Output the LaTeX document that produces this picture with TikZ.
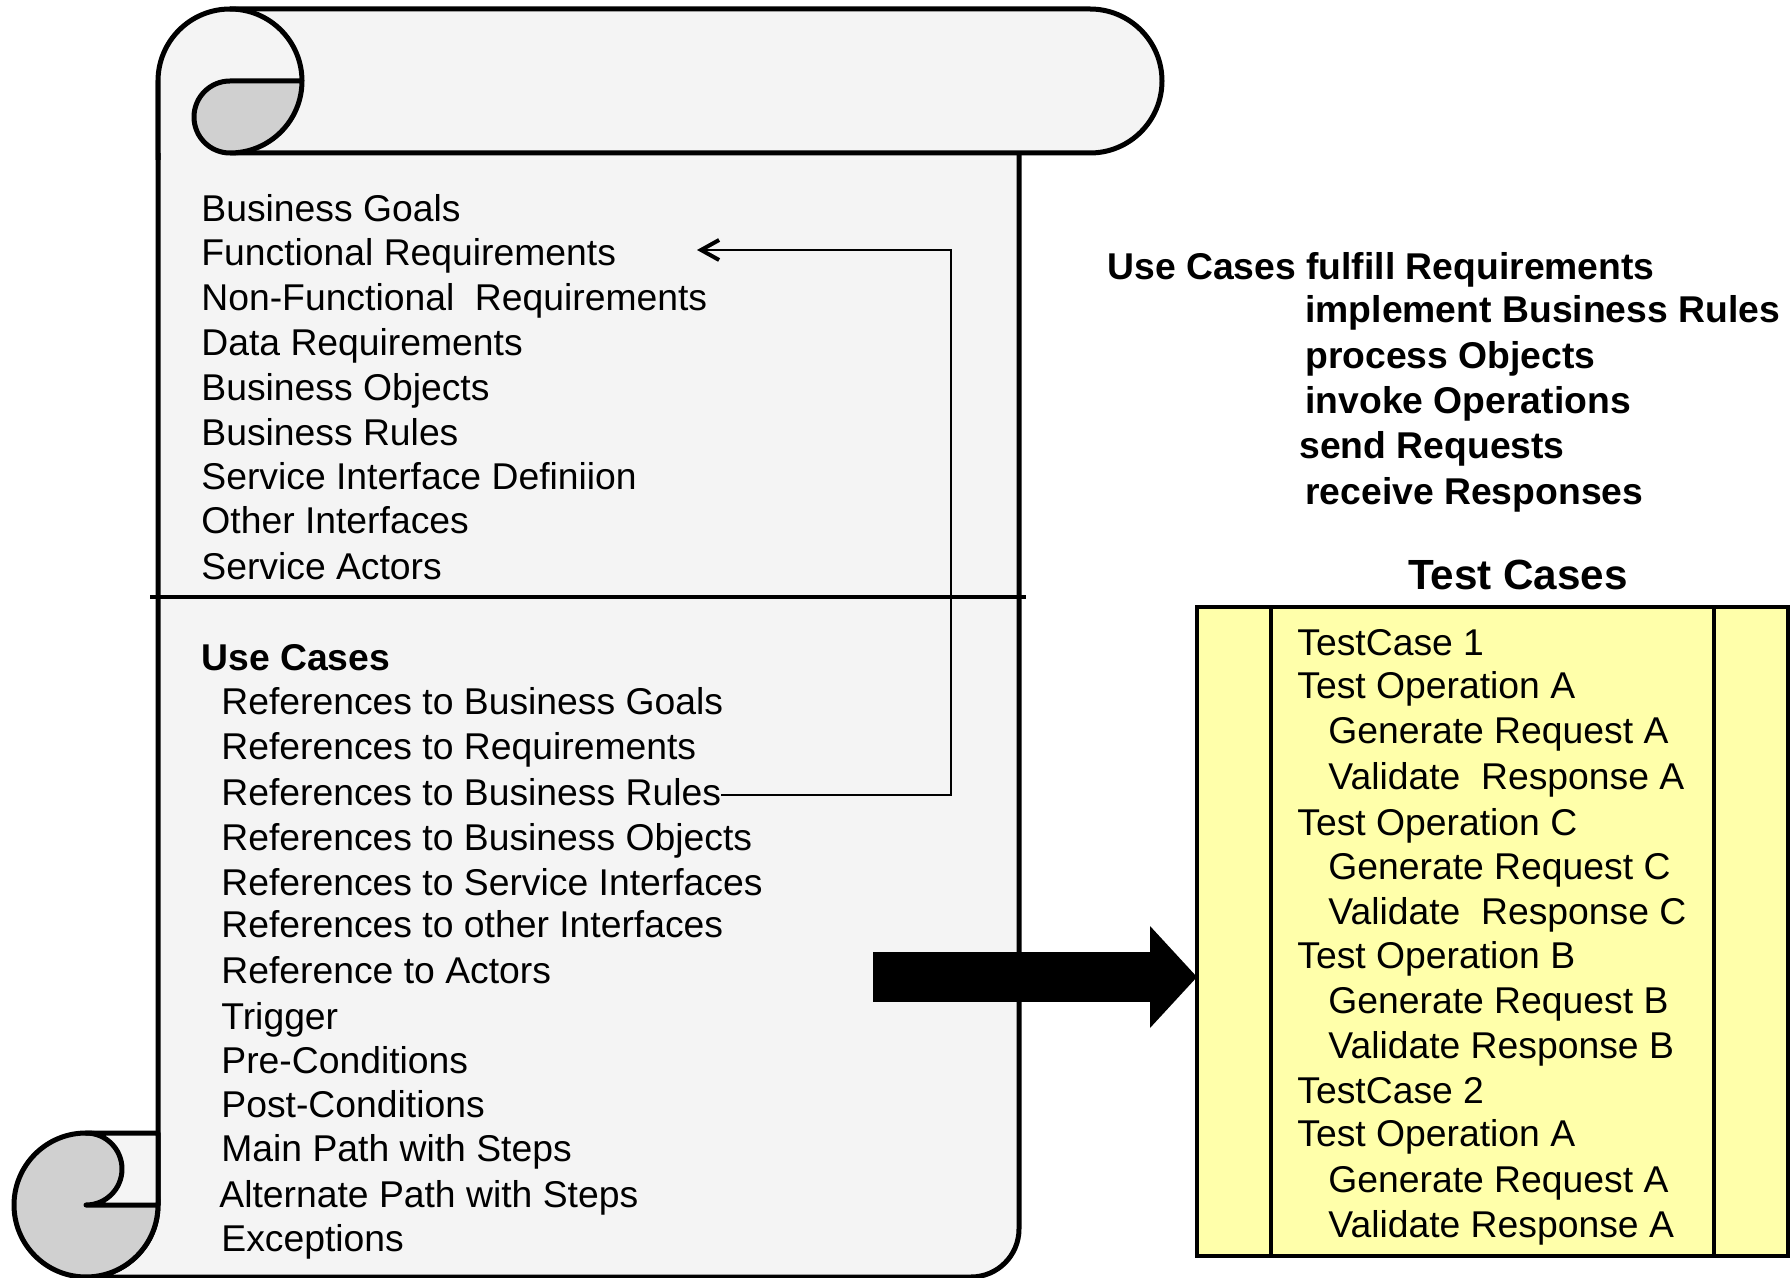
\documentclass[tikz,border=0pt]{standalone}
\usepackage{fontspec}
\setmainfont{Liberation Sans}
\usepackage{xcolor}
\usepackage{tikz}
\usetikzlibrary{arrows.meta}

\definecolor{scrollgray}{HTML}{F4F4F4}
\definecolor{curlgray}{HTML}{D0D0D0}
\definecolor{testyellow}{HTML}{FFFFAA}

\begin{document}
\begin{tikzpicture}[x=0.5pt, y=-0.5pt,
		scroll/.style={fill=scrollgray, draw=black, line width=2.5pt, line join=round},
		curl/.style={fill=curlgray, draw=black, line width=2.5pt, line join=round},
		item/.style={anchor=base west, inner sep=0pt, font=\fontsize{18.65pt}{22pt}\selectfont},
		bolditem/.style={item, font=\fontsize{18.65pt}{22pt}\selectfont\bfseries},
		link/.style={line width=0.85pt, -{Straight Barb[length=9pt, width=10pt, line width=2pt]}},
		bigarrow/.style={line width=25pt, -{Triangle[length=23.5pt, width=51pt, line width=0pt]}}]
				\useasboundingbox (0,0) rectangle (1790,1278);
				
				%Scroll body
				\filldraw[scroll] (158,81) -- (158,1205) arc[start angle=0, end angle=90, radius=72] -- (971,1277) arc[start angle=90, end angle=0, radius=48] -- (1019,81) -- cycle;
				
				%Bottom curl
				\filldraw[curl] (86,1205) circle[radius=72];
				\filldraw[scroll] (86,1133) -- (158,1133) -- (158,1205) -- (86,1205) arc[start angle=90, end angle=-90, radius=36] -- cycle;
				
				%Top roll
				\fill[scrollgray] (158,81) arc[start angle=180, end angle=270, radius=72] -- (1090,9) arc[start angle=270, end angle=450, radius=72] -- (158,153) -- cycle;
				\draw[scroll, fill=none] (158,160) -- (158,81) arc[start angle=180, end angle=270, radius=72] -- (1090,9) arc[start angle=270, end angle=450, radius=72] -- (230,153);
				\draw[scroll, fill=none] (230,9) arc[start angle=270, end angle=360, radius=72];
				\filldraw[curl] (302,81) -- (230,81) arc[start angle=270, end angle=90, radius=36] arc[start angle=90, end angle=0, radius=72] -- cycle;
				
				%Divider
				\draw[line width=2.3pt] (150,597) -- (1026,597);
				
				%Requirements
				\node[item] (goals) at (201,222) {Business Goals};
				\node[item] (funcreq) at (201,266) {Functional Requirements};
				\node[item] (nonfunc) at (201,311) {Non-Functional\ \ Requirements};
				\node[item] (datareq) at (201,356) {Data Requirements};
				\node[item] (objects) at (201,401) {Business Objects};
				\node[item] (busrules) at (201,446) {Business Rules};
				\node[item] (service) at (201,490) {Service Interface Definiion};
				\node[item] (other) at (201,534) {Other Interfaces};
				\node[item] (actors) at (201,580) {Service Actors};
				
				%Use Cases
				\node[bolditem] (usecases) at (201,670) {Use Cases};
				\node[item] (refgoals) at (221,714) {References to Business Goals};
				\node[item] (refreq) at (221,759) {References to Requirements};
				\node[item] (refrules) at (221,805) {References to Business Rules};
				\node[item] (refobj) at (221,850) {References to Business Objects};
				\node[item] (refservice) at (221,895) {References to Service Interfaces};
				\node[item] (refother) at (221,937) {References to other Interfaces};
				\node[item] (refactors) at (221,983) {Reference to Actors};
				\node[item] (trigger) at (221,1029) {Trigger};
				\node[item] (pre) at (221,1073) {Pre-Conditions};
				\node[item] (post) at (221,1117) {Post-Conditions};
				\node[item] (mainpath) at (221,1161) {Main Path with Steps};
				\node[item] (altpath) at (219,1207) {Alternate Path with Steps};
				\node[item] (except) at (221,1251) {Exceptions};
				
				%Lines
				\coordinate (bend) at (951,250);
				\coordinate (frtip) at (697,250);
				\draw[link] ([yshift=-1.5pt]refrules.east) -| (bend) -- (frtip);
				
				%Fulfill
				\node[bolditem] (fulfill) at (1107,280) {Use Cases fulfill Requirements};
				\node[bolditem] (implement) at (1305,323) {implement Business Rules};
				\node[bolditem] (process) at (1305,369) {process Objects};
				\node[bolditem] (invoke) at (1305,414) {invoke Operations};
				\node[bolditem] (send) at (1299,459) {send Requests};
				\node[bolditem] (receive) at (1305,505) {receive Responses};
				
				%Test Cases
				\node[anchor=base, inner sep=0pt, font=\fontsize{21.1pt}{24pt}\selectfont\bfseries] (testtitle) at (1518,590) {Test Cases};
				\filldraw[fill=testyellow, line width=2.2pt] (1197,607) rectangle (1788,1256);
				\draw[line width=2.2pt] (1271,607) -- (1271,1256) (1714,607) -- (1714,1256);
				\node[item] (tc1) at (1297,655) {TestCase 1};
				\node[item] (opa1) at (1297,698) {Test Operation A};
				\node[item] (gena1) at (1328,743) {Generate Request A};
				\node[item] (vala1) at (1328,789) {Validate\ \ Response A};
				\node[item] (opc) at (1297,835) {Test Operation C};
				\node[item] (genc) at (1328,879) {Generate Request C};
				\node[item] (valc) at (1328,924) {Validate\ \ Response C};
				\node[item] (opb) at (1297,968) {Test Operation B};
				\node[item] (genb) at (1328,1013) {Generate Request B};
				\node[item] (valb) at (1328,1058) {Validate Response B};
				\node[item] (tc2) at (1297,1103) {TestCase 2};
				\node[item] (opa2) at (1297,1146) {Test Operation A};
				\node[item] (gena2) at (1328,1192) {Generate Request A};
				\node[item] (vala2) at (1328,1237) {Validate Response A};
				
				%Big arrow
				\coordinate (tail) at (873,977);
				\coordinate (head) at (1197,977);
				\draw[bigarrow] (tail) -- (head);
			\end{tikzpicture}
\end{document}
